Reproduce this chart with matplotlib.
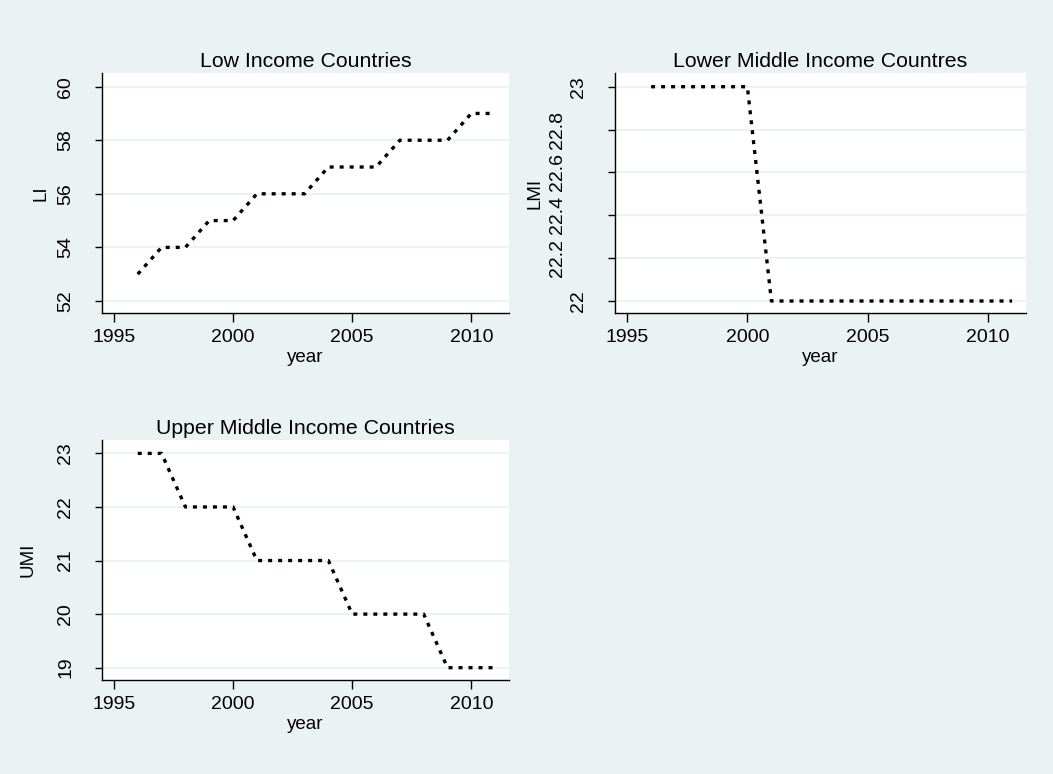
"""
Life-expectancy style trends by income group, 1996-2011.
Three small panels in a 2x2 layout (bottom-right left empty).
"""

import matplotlib
matplotlib.use("Agg")
import matplotlib.pyplot as plt

# ── Data ──────────────────────────────────────────────────────────────────────
years = [1996, 1997, 1998, 1999, 2000, 2001, 2002, 2003,
         2004, 2005, 2006, 2007, 2008, 2009, 2010, 2011]

li = [53, 54, 54, 55, 55, 56, 56, 56, 57, 57, 57, 58, 58, 58, 59, 59]
lmi = [23, 23, 23, 23, 23, 22, 22, 22, 22, 22, 22, 22, 22, 22, 22, 22]
umi = [23, 23, 22, 22, 22, 21, 21, 21, 21, 20, 20, 20, 20, 19, 19, 19]

x_ticks = [1995, 2000, 2005, 2010]
li_ticks = [52, 54, 56, 58, 60]
lmi_ticks = [22, 22.2, 22.4, 22.6, 22.8, 23]
lmi_tick_labels = ["22", "22.2", "22.4", "22.6", "22.8", "23"]
umi_ticks = [19, 20, 21, 22, 23]

# ── Style ─────────────────────────────────────────────────────────────────────
BG = "#EAF2F3"
FONT = ["Liberation Sans", "DejaVu Sans"]
plt.rcParams["font.family"] = FONT

W, H = 1053, 774
fig = plt.figure(figsize=(W / 100, H / 100), dpi=100, facecolor=BG)


def px_axes(left, top, right, bottom):
    """Add axes given pixel edges measured from the top-left corner."""
    return fig.add_axes([left / W, 1 - bottom / H, (right - left) / W, (bottom - top) / H])


def style_panel(ax, title, ylabel, yticks, ylim, ylab_x, ytick_labels=None):
    ax.set_facecolor("white")
    ax.set_xlim(1994.5, 2011.58)
    ax.set_ylim(*ylim)
    ax.set_xticks(x_ticks)
    ax.set_yticks(yticks)
    if ytick_labels is not None:
        ax.set_yticklabels(ytick_labels)
    for s in ("top", "right"):
        ax.spines[s].set_visible(False)
    for s in ("left", "bottom"):
        ax.spines[s].set_linewidth(1.0)
        ax.spines[s].set_color("black")
    ax.tick_params(axis="x", length=6.5, width=1.0, pad=5, labelsize=14)
    ax.tick_params(axis="y", length=5, width=1.0, pad=15, labelsize=14)
    for lab in ax.get_yticklabels():
        lab.set_rotation(90)
        lab.set_va("center")
    ax.yaxis.grid(True, color=BG, linewidth=1.4, zorder=0)
    ax.set_axisbelow(True)
    ax.set_title(title, fontsize=15.3, pad=4.5)
    ax.set_xlabel("year", fontsize=13.5)
    ax.xaxis.set_label_coords(0.5, -0.148)
    ax.set_ylabel(ylabel, fontsize=13.5)
    ax.yaxis.set_label_coords(ylab_x, 0.5)


def draw_series(ax, y):
    line, = ax.plot(years, y, color="black", linewidth=2.4, zorder=3)
    line.set_dashes((1.2, 1.8))
    line.set_dash_capstyle("butt")


# ── Panels ────────────────────────────────────────────────────────────────────
ax1 = px_axes(102, 73, 509, 313)
style_panel(ax1, "Low Income Countries", "LI", li_ticks, (51.55, 60.51), -0.130)
draw_series(ax1, li)

ax2 = px_axes(615, 73, 1026, 313)
style_panel(ax2, "Lower Middle Income Countres", "LMI", lmi_ticks,
            (21.944, 23.064), -0.173, lmi_tick_labels)
draw_series(ax2, lmi)
# decimal labels sit further out from the axis than the integer ones
for tick, val in zip(ax2.yaxis.get_major_ticks(), lmi_ticks):
    if val not in (22, 23):
        tick.set_pad(30)

ax3 = px_axes(102, 440, 509, 680)
style_panel(ax3, "Upper Middle Income Countries", "UMI", umi_ticks, (18.77, 23.25), -0.162)
draw_series(ax3, umi)

fig.savefig("out.png", dpi=100, facecolor=BG)
